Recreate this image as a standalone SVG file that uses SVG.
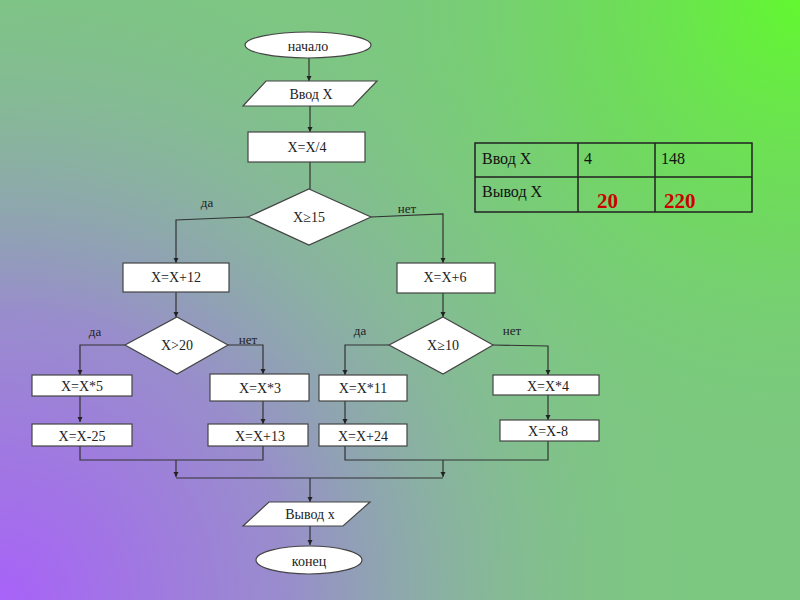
<svg xmlns="http://www.w3.org/2000/svg" width="800" height="600" viewBox="0 0 800 600">
<defs>
<radialGradient id="purp" gradientUnits="userSpaceOnUse" cx="0" cy="600" r="720">
<stop offset="0" stop-color="#a862f8" stop-opacity="1"/>
<stop offset="0.4" stop-color="#9a8ad0" stop-opacity="0.95"/>
<stop offset="0.65" stop-color="#90a8b0" stop-opacity="0.6"/>
<stop offset="1" stop-color="#7cc880" stop-opacity="0"/>
</radialGradient>
<radialGradient id="lime" gradientUnits="userSpaceOnUse" cx="800" cy="0" r="480">
<stop offset="0" stop-color="#62f830" stop-opacity="1"/>
<stop offset="0.5" stop-color="#6ae050" stop-opacity="0.6"/>
<stop offset="1" stop-color="#7cc880" stop-opacity="0"/>
</radialGradient>
<marker id="ah" markerWidth="6" markerHeight="6" refX="5" refY="3" orient="auto" markerUnits="userSpaceOnUse">
<path d="M0,0.5 L5,3 L0,5.5 z" fill="#222"/>
</marker>
<style>
.shape{fill:#fff;stroke:#444;stroke-width:1.2}
.t{font-family:"Liberation Serif","Times New Roman",serif;font-size:14px;fill:#222;text-anchor:middle;dominant-baseline:central}
.lbl{font-family:"Liberation Serif","Times New Roman",serif;font-size:13px;fill:#222;text-anchor:middle}
.c{fill:none;stroke:#333;stroke-width:1.2}
.ca{fill:none;stroke:#333;stroke-width:1.2;marker-end:url(#ah)}
.tb{font-family:"Liberation Serif","Times New Roman",serif;font-size:16px;fill:#111}
.red{font-family:"Liberation Serif","Times New Roman",serif;font-size:21px;font-weight:bold;fill:#cc0000}
</style>
</defs>
<rect width="800" height="600" fill="#7cc880"/>
<rect width="800" height="600" fill="url(#purp)"/>
<rect width="800" height="600" fill="url(#lime)"/>

<g id="connectors">
<path class="ca" d="M309,58 V81"/>
<path class="ca" d="M310,106 V132"/>
<path class="c" d="M310,162 V189"/>
<path class="ca" d="M248,217 L176,220 V263"/>
<path class="ca" d="M371,217 L443,214 V263"/>
<path class="ca" d="M176,292 V317"/>
<path class="ca" d="M443,293 V317"/>
<path class="ca" d="M125,345 H80 V375"/>
<path class="ca" d="M228,345 H263 V374"/>
<path class="ca" d="M389,345 H345 V375"/>
<path class="ca" d="M493,345 L548,346 V375"/>
<path class="ca" d="M80,396 V422"/>
<path class="ca" d="M263,401 V424"/>
<path class="ca" d="M345,401 V424"/>
<path class="ca" d="M548,395 V420"/>
<path class="c" d="M80,446 V460 H263 V446"/>
<path class="c" d="M345,446 V460 H548 V440"/>
<path class="ca" d="M176,460 V477"/>
<path class="ca" d="M443,460 V477"/>
<path class="c" d="M176,478 H443"/>
<path class="ca" d="M310,478 V502"/>
<path class="ca" d="M310,526 V545"/>
</g>

<g id="start">
<ellipse class="shape" cx="308" cy="45" rx="63" ry="13"/>
<text class="t" x="308" y="46">начало</text>
</g>
<g id="input">
<polygon class="shape" points="266,81 377,81 353,106 243,106"/>
<text class="t" x="311" y="94">Ввод Х</text>
</g>
<g id="div4">
<rect class="shape" x="248" y="132" width="117" height="30"/>
<text class="t" x="307" y="147">Х=Х/4</text>
</g>
<g id="cond15">
<polygon class="shape" points="309,189 371,217 309,245 248,217"/>
<text class="t" x="309" y="217">Х≥15</text>
</g>
<text class="lbl" x="207" y="207">да</text>
<text class="lbl" x="407" y="213">нет</text>
<g id="plus12">
<rect class="shape" x="123" y="263" width="106" height="29"/>
<text class="t" x="176" y="277">Х=Х+12</text>
</g>
<g id="plus6">
<rect class="shape" x="397" y="263" width="98" height="30"/>
<text class="t" x="445" y="277">Х=Х+6</text>
</g>
<g id="cond20">
<polygon class="shape" points="177,317 228,345 177,374 125,345"/>
<text class="t" x="177" y="345">Х&gt;20</text>
</g>
<text class="lbl" x="95" y="336">да</text>
<text class="lbl" x="248" y="344">нет</text>
<g id="cond10">
<polygon class="shape" points="443,317 493,345 443,374 389,345"/>
<text class="t" x="443" y="345">Х≥10</text>
</g>
<text class="lbl" x="360" y="335">да</text>
<text class="lbl" x="512" y="335">нет</text>
<g id="mul5">
<rect class="shape" x="32" y="375" width="100" height="21"/>
<text class="t" x="82" y="386">Х=Х*5</text>
</g>
<g id="mul3">
<rect class="shape" x="210" y="374" width="99" height="27"/>
<text class="t" x="260" y="388">Х=Х*3</text>
</g>
<g id="mul11">
<rect class="shape" x="319" y="375" width="88" height="26"/>
<text class="t" x="363" y="388">Х=Х*11</text>
</g>
<g id="mul4">
<rect class="shape" x="493" y="375" width="106" height="20"/>
<text class="t" x="548" y="386">Х=Х*4</text>
</g>
<g id="minus25">
<rect class="shape" x="32" y="424" width="100" height="22"/>
<text class="t" x="82" y="436">Х=Х-25</text>
</g>
<g id="plus13">
<rect class="shape" x="208" y="424" width="100" height="22"/>
<text class="t" x="260" y="436">Х=Х+13</text>
</g>
<g id="plus24">
<rect class="shape" x="319" y="424" width="88" height="22"/>
<text class="t" x="363" y="436">Х=Х+24</text>
</g>
<g id="minus8">
<rect class="shape" x="500" y="420" width="99" height="21"/>
<text class="t" x="548" y="431">Х=Х-8</text>
</g>
<g id="output">
<polygon class="shape" points="269,502 370,502 343,526 243,526"/>
<text class="t" x="310" y="514">Вывод х</text>
</g>
<g id="end">
<ellipse class="shape" cx="309" cy="560" rx="53" ry="14"/>
<text class="t" x="309" y="561">конец</text>
</g>

<g id="table">
<rect x="475" y="143" width="277" height="69" fill="none" stroke="#222" stroke-width="1.5"/>
<path d="M475,177 H752 M578,143 V212 M655,143 V212" fill="none" stroke="#222" stroke-width="1.5"/>
<text class="tb" x="482" y="164">Ввод  Х</text>
<text class="tb" x="584" y="164">4</text>
<text class="tb" x="661" y="164">148</text>
<text class="tb" x="482" y="197">Вывод  Х</text>
<text class="red" x="597" y="208">20</text>
<text class="red" x="664" y="208">220</text>
</g>
</svg>
